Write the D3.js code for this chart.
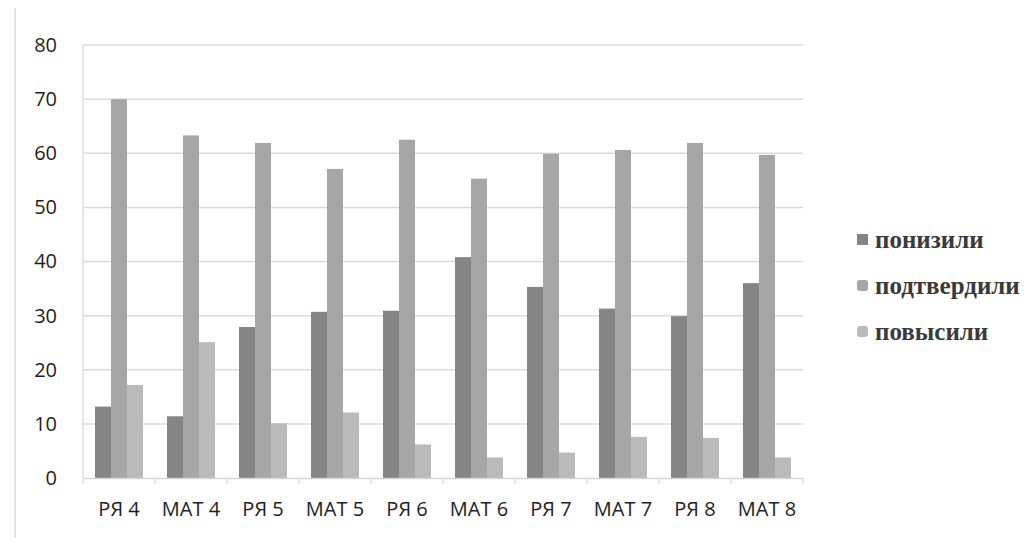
<!DOCTYPE html>
<html>
<head>
<meta charset="utf-8">
<script src="https://cdn.jsdelivr.net/npm/d3@7"></script>
<style>
  html, body { margin: 0; padding: 0; background: #fff; }
  svg { display: block; }
</style>
</head>
<body>
<svg id="chart" width="1035" height="538"></svg>
<script>
const categories = ["РЯ 4", "МАТ 4", "РЯ 5", "МАТ 5", "РЯ 6", "МАТ 6", "РЯ 7", "МАТ 7", "РЯ 8", "МАТ 8"];
const seriesNames = ["понизили", "подтвердили", "повысили"];
const lowered   = [13.2, 11.4, 27.9, 30.7, 30.9, 40.8, 35.3, 31.3, 29.9, 36.0];
const confirmed = [70.0, 63.3, 61.9, 57.1, 62.5, 55.3, 59.9, 60.6, 61.9, 59.7];
const raised    = [17.2, 25.1, 10.1, 12.1, 6.2, 3.8, 4.7, 7.6, 7.4, 3.8];
const yTicks = [0, 10, 20, 30, 40, 50, 60, 70, 80];
const colors = ["#858585", "#a6a6a6", "#bababa"];

(function () {
const seriesValues = [lowered, confirmed, raised];
const svg = d3.select("#chart");

const mLeft = 83, mRight = 803, mTop = 45, mBottom = 478;

const x = d3.scaleBand().domain(categories).range([mLeft, mRight]).paddingInner(0.333).paddingOuter(0.1667);
const xSub = d3.scaleBand().domain(seriesNames).range([0, x.bandwidth()]);
const y = d3.scaleLinear().domain([0, 80]).range([mBottom, mTop]);

// faint scan border
svg.append("line").attr("x1", 15).attr("x2", 15).attr("y1", 8).attr("y2", 538)
  .attr("stroke", "#e4e4e4").attr("stroke-width", 2);

// gridlines
svg.append("g").selectAll("line").data(yTicks.filter(d => d > 0)).join("line")
  .attr("x1", mLeft).attr("x2", mRight)
  .attr("y1", d => y(d)).attr("y2", d => y(d))
  .attr("stroke", "#dadada").attr("stroke-width", 1.5);

// left axis line
svg.append("line").attr("x1", mLeft).attr("x2", mLeft).attr("y1", y(80)).attr("y2", mBottom)
  .attr("stroke", "#dcdcdc").attr("stroke-width", 1.5);

// bars
const groups = svg.append("g").selectAll("g").data(categories).join("g")
  .attr("transform", d => `translate(${x(d)},0)`);
groups.selectAll("rect").data((c, i) => seriesNames.map((s, k) => ({ s, v: seriesValues[k][i], k })))
  .join("rect")
  .attr("x", d => xSub(d.s))
  .attr("width", xSub.bandwidth())
  .attr("y", d => y(d.v))
  .attr("height", d => mBottom - y(d.v))
  .attr("fill", d => colors[d.k]);

// x axis
const xAxis = svg.append("g").attr("transform", `translate(0,${mBottom})`)
  .call(d3.axisBottom(x).tickSize(0).tickPadding(24));
xAxis.select(".domain").attr("stroke", "#d6d6d6").attr("stroke-width", 1.5);
xAxis.selectAll("text").attr("font-family", "'Open Sans', sans-serif").attr("font-size", 20).attr("fill", "#1e1e1e");
// category boundary ticks
svg.append("g").selectAll("line").data(d3.range(categories.length + 1)).join("line")
  .attr("x1", i => mLeft + i * x.step()).attr("x2", i => mLeft + i * x.step())
  .attr("y1", mBottom).attr("y2", mBottom + 6)
  .attr("stroke", "#e0e0e0").attr("stroke-width", 1.5);

// y axis
const yAxis = svg.append("g").attr("transform", `translate(${mLeft},0)`)
  .call(d3.axisLeft(y).tickValues(yTicks).tickSize(0).tickPadding(26));
yAxis.select(".domain").remove();
yAxis.selectAll("text").attr("font-family", "'Open Sans', sans-serif").attr("font-size", 20).attr("fill", "#1e1e1e");

// legend
const legend = svg.append("g").selectAll("g").data(seriesNames).join("g")
  .attr("transform", (d, i) => `translate(857,${240 + i * 46})`);
legend.append("rect").attr("x", 0).attr("y", -6).attr("width", 11).attr("height", 11)
  .attr("rx", (d, i) => i === 0 ? 0 : 3)
  .attr("fill", (d, i) => colors[i]);
legend.append("text").attr("x", 18).attr("y", 0).attr("dy", "0.32em")
  .attr("font-family", "'Liberation Serif', serif").attr("font-size", 25)
  .attr("font-weight", "bold")
  .attr("fill", "#3a3a3a")
  .text(d => d);
})();
</script>
</body>
</html>
